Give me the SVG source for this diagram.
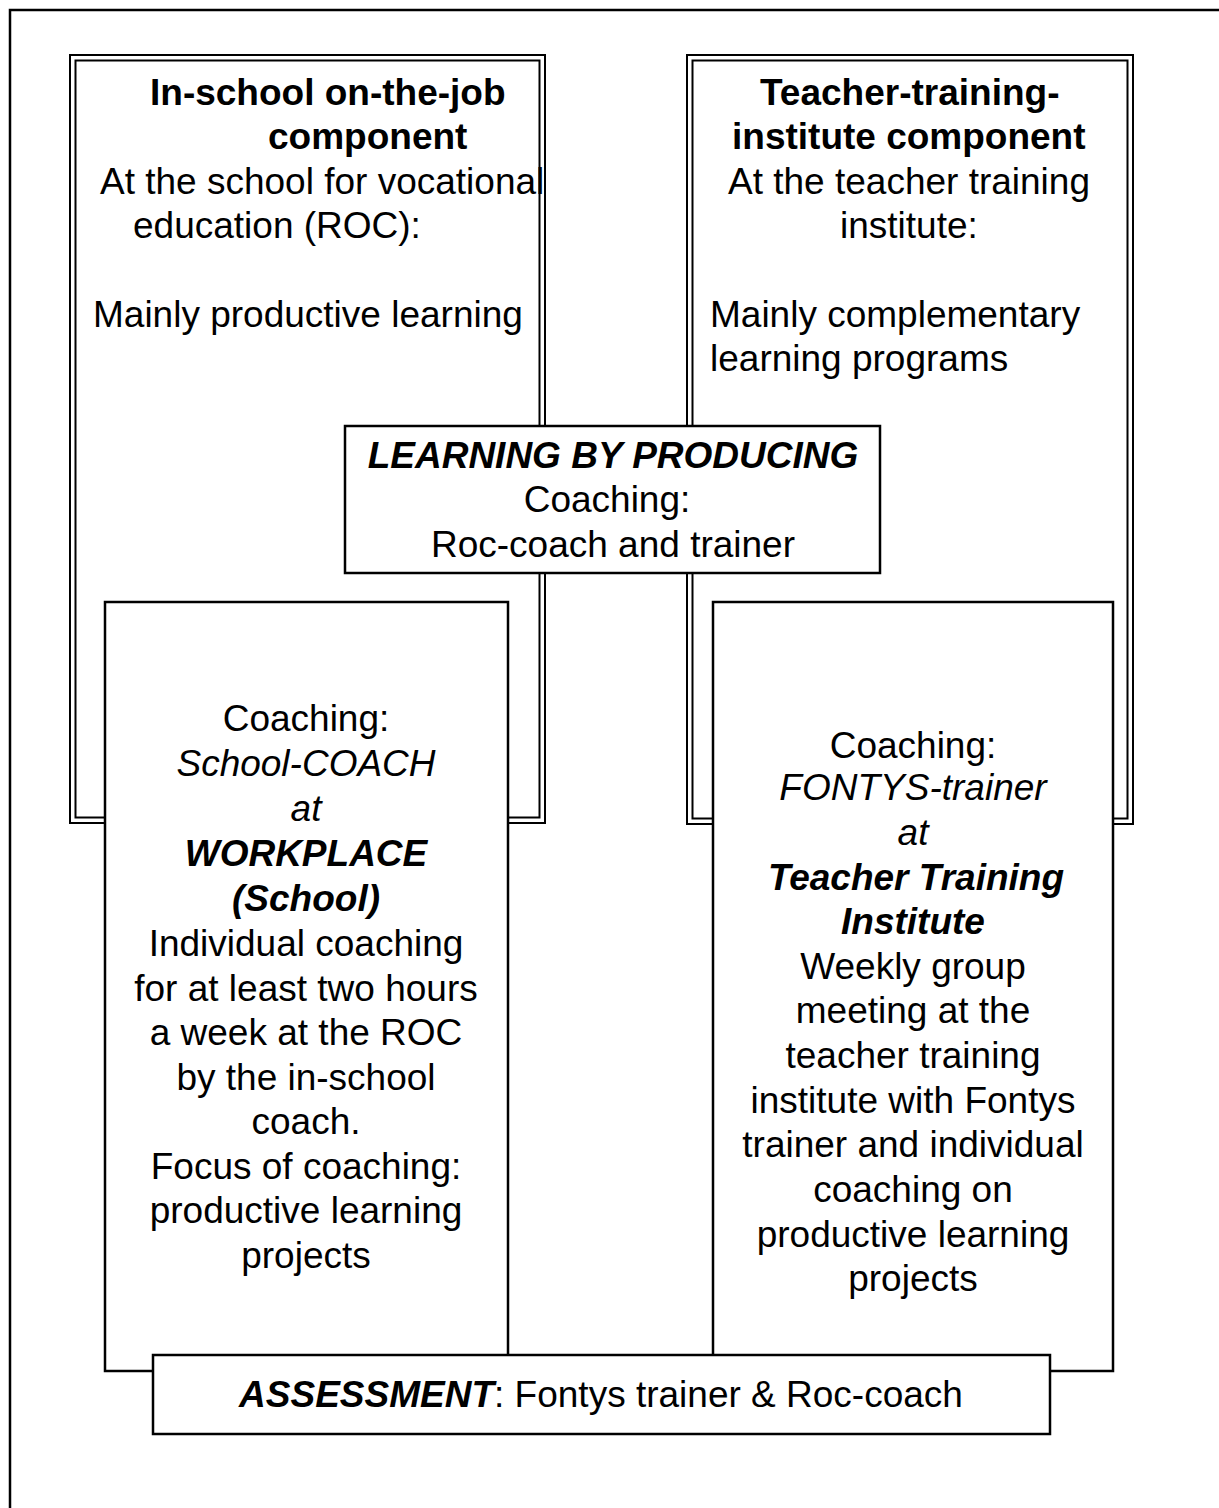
<svg xmlns="http://www.w3.org/2000/svg" width="1219" height="1508" viewBox="0 0 1219 1508">
<style>
  text { font-family: "Liberation Sans", Arial, sans-serif; font-size: 37px; fill: #000; }
  .b { font-weight: bold; }
  .i { font-style: italic; }
  .bi { font-weight: bold; font-style: italic; }
  .box { fill: #fff; stroke: #000; stroke-width: 2.5; }
  .dbl { fill: none; stroke: #000; stroke-width: 2; }
  .c { text-anchor: middle; }
</style>
<rect width="1219" height="1508" fill="#fff"/>
<rect id="frame" x="10" y="10" width="1400" height="1700" fill="none" stroke="#000" stroke-width="2.5"/>
<g id="connectors"></g>
<g id="top-left">
  <rect x="70" y="55" width="475" height="768" fill="#fff" class="dbl"/>
  <rect x="75.5" y="60.5" width="464" height="757" class="dbl"/>
  <text class="b" x="150" y="105">In-school on-the-job</text>
  <text class="b" x="268" y="149">component</text>
  <text x="100" y="194">At the school for vocational</text>
  <text x="133" y="238">education (ROC):</text>
  <text x="93" y="327">Mainly productive learning</text>
</g>
<g id="top-right">
  <rect x="687" y="55" width="446" height="769" fill="#fff" class="dbl"/>
  <rect x="692.5" y="60.5" width="435" height="758" class="dbl"/>
  <text class="b" x="760" y="105">Teacher-training-</text>
  <text class="b" x="732" y="149">institute component</text>
  <text x="728" y="194">At the teacher training</text>
  <text x="840" y="238">institute:</text>
  <text x="710" y="327">Mainly complementary</text>
  <text x="710" y="371">learning programs</text>
</g>
<g id="center">
  <rect class="box" x="345" y="426" width="535" height="147"/>
  <text class="bi c" x="613" y="468">LEARNING BY PRODUCING</text>
  <text class="c" x="607" y="512">Coaching:</text>
  <text class="c" x="613" y="557">Roc-coach and trainer</text>
</g>
<g id="bottom-left">
  <rect class="box" x="105" y="602" width="403" height="769"/>
  <text class="c" x="306" y="731">Coaching:</text>
  <text class="i c" x="306" y="776">School-COACH</text>
  <text class="i c" x="306" y="821">at</text>
  <text class="bi c" x="306" y="866">WORKPLACE</text>
  <text class="bi c" x="306" y="911">(School)</text>
  <text class="c" x="306" y="956">Individual coaching</text>
  <text class="c" x="306" y="1001">for at least two hours</text>
  <text class="c" x="306" y="1045">a week at the ROC</text>
  <text class="c" x="306" y="1090">by the in-school</text>
  <text class="c" x="306" y="1134">coach.</text>
  <text class="c" x="306" y="1179">Focus of coaching:</text>
  <text class="c" x="306" y="1223">productive learning</text>
  <text class="c" x="306" y="1268">projects</text>
</g>
<g id="bottom-right">
  <rect class="box" x="713" y="602" width="400" height="769"/>
  <text class="c" x="913" y="758">Coaching:</text>
  <text class="i c" x="913" y="800">FONTYS-trainer</text>
  <text class="i c" x="913" y="845">at</text>
  <text class="bi c" x="916" y="890">Teacher Training</text>
  <text class="bi c" x="913" y="934">Institute</text>
  <text class="c" x="913" y="979">Weekly group</text>
  <text class="c" x="913" y="1023">meeting at the</text>
  <text class="c" x="913" y="1068">teacher training</text>
  <text class="c" x="913" y="1113">institute with Fontys</text>
  <text class="c" x="913" y="1157">trainer and individual</text>
  <text class="c" x="913" y="1202">coaching on</text>
  <text class="c" x="913" y="1247">productive learning</text>
  <text class="c" x="913" y="1291">projects</text>
</g>
<g id="assessment">
  <rect class="box" x="153" y="1355" width="897" height="79"/>
  <text class="c" x="601" y="1407"><tspan class="bi">ASSESSMENT</tspan>: Fontys trainer &amp; Roc-coach</text>
</g>
</svg>
